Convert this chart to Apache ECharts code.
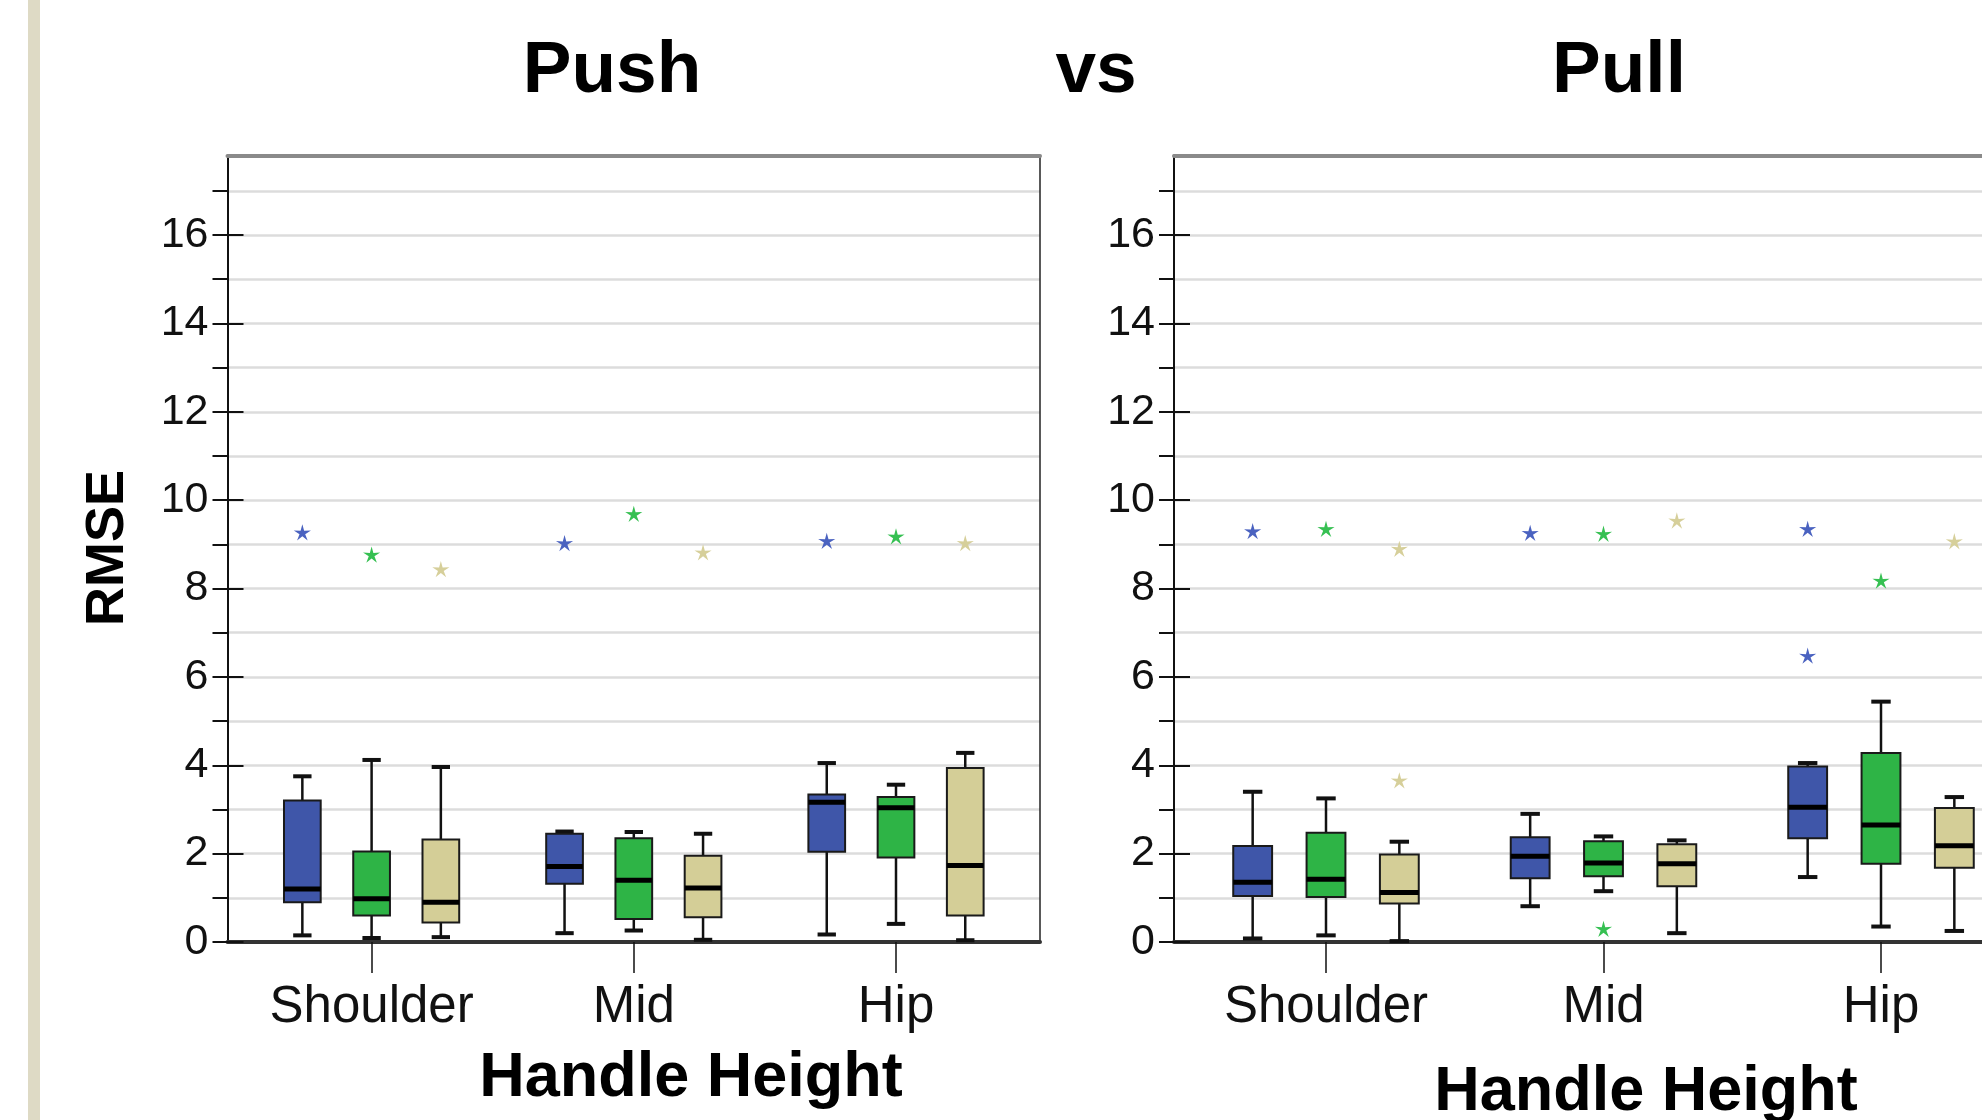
<!DOCTYPE html>
<html><head><meta charset="utf-8">
<script src="https://cdn.jsdelivr.net/npm/echarts@6/dist/echarts.min.js"></script>
<style>html,body{margin:0;padding:0;background:#fff}#c{width:1982px;height:1120px}</style>
</head><body><div id="c"></div>
<script>
// ---------- data ----------
const categories = ['Shoulder', 'Mid', 'Hip'];
const yTickLabels = [0, 2, 4, 6, 8, 10, 12, 14, 16];
const yAllTicks = [0, 1, 2, 3, 4, 5, 6, 7, 8, 9, 10, 11, 12, 13, 14, 15, 16, 17];
const yMax = 17.8;
const titles = ['Push', 'vs', 'Pull'];
const yName = 'RMSE';
const xName = 'Handle Height';

// boxes: [min, Q1, median, Q3, max] per category
const pushBlue  = [[0.15, 0.90, 1.20, 3.20, 3.75], [0.20, 1.32, 1.71, 2.45, 2.50], [0.17, 2.04, 3.16, 3.34, 4.05]];
const pushGreen = [[0.09, 0.60, 0.98, 2.05, 4.12], [0.26, 0.52, 1.40, 2.35, 2.49], [0.41, 1.91, 3.04, 3.28, 3.56]];
const pushTan   = [[0.11, 0.44, 0.90, 2.32, 3.96], [0.05, 0.56, 1.22, 1.95, 2.45], [0.04, 0.60, 1.73, 3.94, 4.28]];
const pullBlue  = [[0.08, 1.04, 1.35, 2.17, 3.40], [0.81, 1.44, 1.94, 2.37, 2.90], [1.47, 2.35, 3.05, 3.97, 4.05]];
const pullGreen = [[0.15, 1.02, 1.42, 2.47, 3.25], [1.15, 1.49, 1.79, 2.28, 2.39], [0.35, 1.77, 2.65, 4.28, 5.44]];
const pullTan   = [[0.02, 0.87, 1.12, 1.98, 2.27], [0.20, 1.26, 1.77, 2.21, 2.30], [0.25, 1.68, 2.18, 3.03, 3.28]];

// outliers: [categoryIndex, value]
const pushBlueOut  = [[0, 9.25], [1, 9.01], [2, 9.06]];
const pushGreenOut = [[0, 8.75], [1, 9.67], [2, 9.16]];
const pushTanOut   = [[0, 8.42], [1, 8.80], [2, 9.01]];
const pullBlueOut  = [[0, 9.28], [1, 9.24], [2, 9.33], [2, 6.46]];
const pullGreenOut = [[0, 9.33], [1, 9.22], [1, 0.28], [2, 8.16]];
const pullTanOut   = [[0, 8.88], [0, 3.64], [1, 9.52], [2, 9.05]];

// ---------- styles ----------
const COLORS = ['#3F56A9', '#2EB446', '#D4CE97'];
const STAR_COLORS = ['#4A62C0', '#36C052', '#D6CF9A'];
const FONT = '"Liberation Sans", Arial, sans-serif';

function boxRenderer(slot, color) {
  return function (params, api) {
    const cat = api.value(0);
    const band = api.size([1, 0])[0];
    const step = (band * 0.8 - 2) / 3;
    const x = api.coord([cat, 0])[0] + (slot - 1) * step;
    const half = band * 0.07;
    const capHalf = half / 2;
    const y = [1, 2, 3, 4, 5].map(function (d) { return api.coord([cat, api.value(d)])[1]; });
    const ws = { stroke: '#111', lineWidth: 2.5 };
    const cs = { stroke: '#111', lineWidth: 4 };
    return {
      type: 'group',
      children: [
        { type: 'line', shape: { x1: x, y1: y[3], x2: x, y2: y[4] }, style: ws },
        { type: 'line', shape: { x1: x, y1: y[0], x2: x, y2: y[1] }, style: ws },
        { type: 'line', shape: { x1: x - capHalf, y1: y[4], x2: x + capHalf, y2: y[4] }, style: cs },
        { type: 'line', shape: { x1: x - capHalf, y1: y[0], x2: x + capHalf, y2: y[0] }, style: cs },
        { type: 'rect', shape: { x: x - half, y: y[3], width: 2 * half, height: y[1] - y[3] },
          style: { fill: color, stroke: '#1a1a1a', lineWidth: 2 } },
        { type: 'line', shape: { x1: x - half, y1: y[2], x2: x + half, y2: y[2] },
          style: { stroke: '#000', lineWidth: 5 } }
      ]
    };
  };
}

function starRenderer(slot, color) {
  return function (params, api) {
    const cat = api.value(0);
    const band = api.size([1, 0])[0];
    const step = (band * 0.8 - 2) / 3;
    const c = api.coord([cat, api.value(1)]);
    const cx = c[0] + (slot - 1) * step, cy = c[1];
    const pts = [];
    for (let k = 0; k < 10; k++) {
      const r = k % 2 ? 3 : 9;
      const a = -Math.PI / 2 + k * Math.PI / 5;
      pts.push([cx + r * Math.cos(a), cy + r * Math.sin(a)]);
    }
    return { type: 'polygon', shape: { points: pts }, style: { fill: color } };
  };
}

const grids = [];
const xAxes = [];
const yAxes = [];
const series = [];

function addPanel(frameLeft, frameWidth, boxLeft, boxWidth, boxes, outs) {
  const top = 155.5, height = 786.5;
  const gFrame = grids.length;
  grids.push({ left: frameLeft, top: top, width: frameWidth, height: height, containLabel: false, outerBoundsMode: 'none' });
  const gBox = grids.length;
  grids.push({ left: boxLeft, top: top, width: boxWidth, height: height, containLabel: false, outerBoundsMode: 'none' });

  // frame bottom and top lines
  xAxes.push({ gridIndex: gFrame, type: 'value', position: 'bottom', min: 0, max: 1,
    axisLine: { show: true, onZero: false, lineStyle: { color: '#333', width: 4 } },
    axisTick: { show: false }, axisLabel: { show: false }, splitLine: { show: false } });
  xAxes.push({ gridIndex: gFrame, type: 'value', position: 'top', min: 0, max: 1,
    axisLine: { show: true, onZero: false, lineStyle: { color: '#8a8a8a', width: 4 } },
    axisTick: { show: false }, axisLabel: { show: false }, splitLine: { show: false } });
  const xBox = xAxes.length;
  xAxes.push({ gridIndex: gBox, type: 'category', data: categories, position: 'bottom',
    axisLine: { show: false, onZero: false },
    axisTick: { show: true, interval: 0, alignWithLabel: true, length: 31, lineStyle: { color: '#111', width: 1.5 } },
    axisLabel: { interval: 0, hideOverlap: false, fontSize: 51, color: '#111', margin: 40, fontFamily: FONT },
    splitLine: { show: false } });

  // main y axis with labels, outside ticks at each integer, gridlines
  yAxes.push({ gridIndex: gFrame, type: 'value', position: 'left', min: 0, max: yMax, interval: 1,
    axisLine: { show: true, onZero: false, lineStyle: { color: '#111', width: 2 } },
    axisTick: { show: true, inside: false, length: 15, customValues: yAllTicks, lineStyle: { color: '#111', width: 2 } },
    axisLabel: { show: true, customValues: yTickLabels, fontSize: 43, color: '#111', margin: 19,
      padding: [18, 0, 0, 0], fontFamily: FONT },
    splitLine: { show: true, lineStyle: { color: '#dcdcdc', width: 2.5 } } });
  // inside ticks at labelled values
  yAxes.push({ gridIndex: gFrame, type: 'value', position: 'left', offset: 0, min: 0, max: yMax,
    axisLine: { show: false, onZero: false },
    axisTick: { show: true, inside: true, length: 16, customValues: yTickLabels, lineStyle: { color: '#111', width: 2 } },
    axisLabel: { show: false }, splitLine: { show: false } });
  // right frame edge
  yAxes.push({ gridIndex: gFrame, type: 'value', position: 'right', min: 0, max: yMax,
    axisLine: { show: true, onZero: false, lineStyle: { color: '#222', width: 1.5 } },
    axisTick: { show: false }, axisLabel: { show: false }, splitLine: { show: false } });
  const yBox = yAxes.length;
  yAxes.push({ gridIndex: gBox, type: 'value', min: 0, max: yMax, show: false });

  boxes.forEach(function (b, slot) {
    series.push({
      type: 'custom', xAxisIndex: xBox, yAxisIndex: yBox, z: 3,
      renderItem: boxRenderer(slot, COLORS[slot]),
      encode: { x: 0, y: [1, 2, 3, 4, 5] },
      data: b.map(function (d, i) { return [i].concat(d); })
    });
  });
  outs.forEach(function (o, slot) {
    series.push({
      type: 'custom', xAxisIndex: xBox, yAxisIndex: yBox, z: 4,
      renderItem: starRenderer(slot, STAR_COLORS[slot]),
      encode: { x: 0, y: 1 },
      data: o
    });
  });
}

addPanel(227.5, 812.5, 240.5, 786.6, [pushBlue, pushGreen, pushTan], [pushBlueOut, pushGreenOut, pushTanOut]);
addPanel(1174, 859, 1187.25, 832.5, [pullBlue, pullGreen, pullTan], [pullBlueOut, pullGreenOut, pullTanOut]);

const bold = function (txt, x, y, size, rot) {
  return { type: 'text', x: x, y: y, rotation: rot || 0, z: 10,
    style: { text: txt, fontSize: size, fontWeight: 'bold', fontFamily: FONT, fill: '#000',
      align: 'center', verticalAlign: 'middle' } };
};

const option = {
  backgroundColor: '#ffffff',
  animation: false,
  textStyle: { fontFamily: FONT },
  grid: grids,
  xAxis: xAxes,
  yAxis: yAxes,
  series: series,
  graphic: [
    { type: 'rect', shape: { x: 28, y: 0, width: 12, height: 1120 }, style: { fill: '#DEDAC5' } },
    bold(titles[0], 612, 72, 73),
    bold(titles[1], 1096, 72, 73),
    bold(titles[2], 1619, 72, 73),
    bold(yName, 108, 548, 54, Math.PI / 2),
    bold(xName, 691, 1079, 63),
    bold(xName, 1646, 1093, 63)
  ]
};

const chart = echarts.init(document.getElementById('c'), null, { renderer: 'canvas' });
chart.setOption(option);
</script>
</body></html>
